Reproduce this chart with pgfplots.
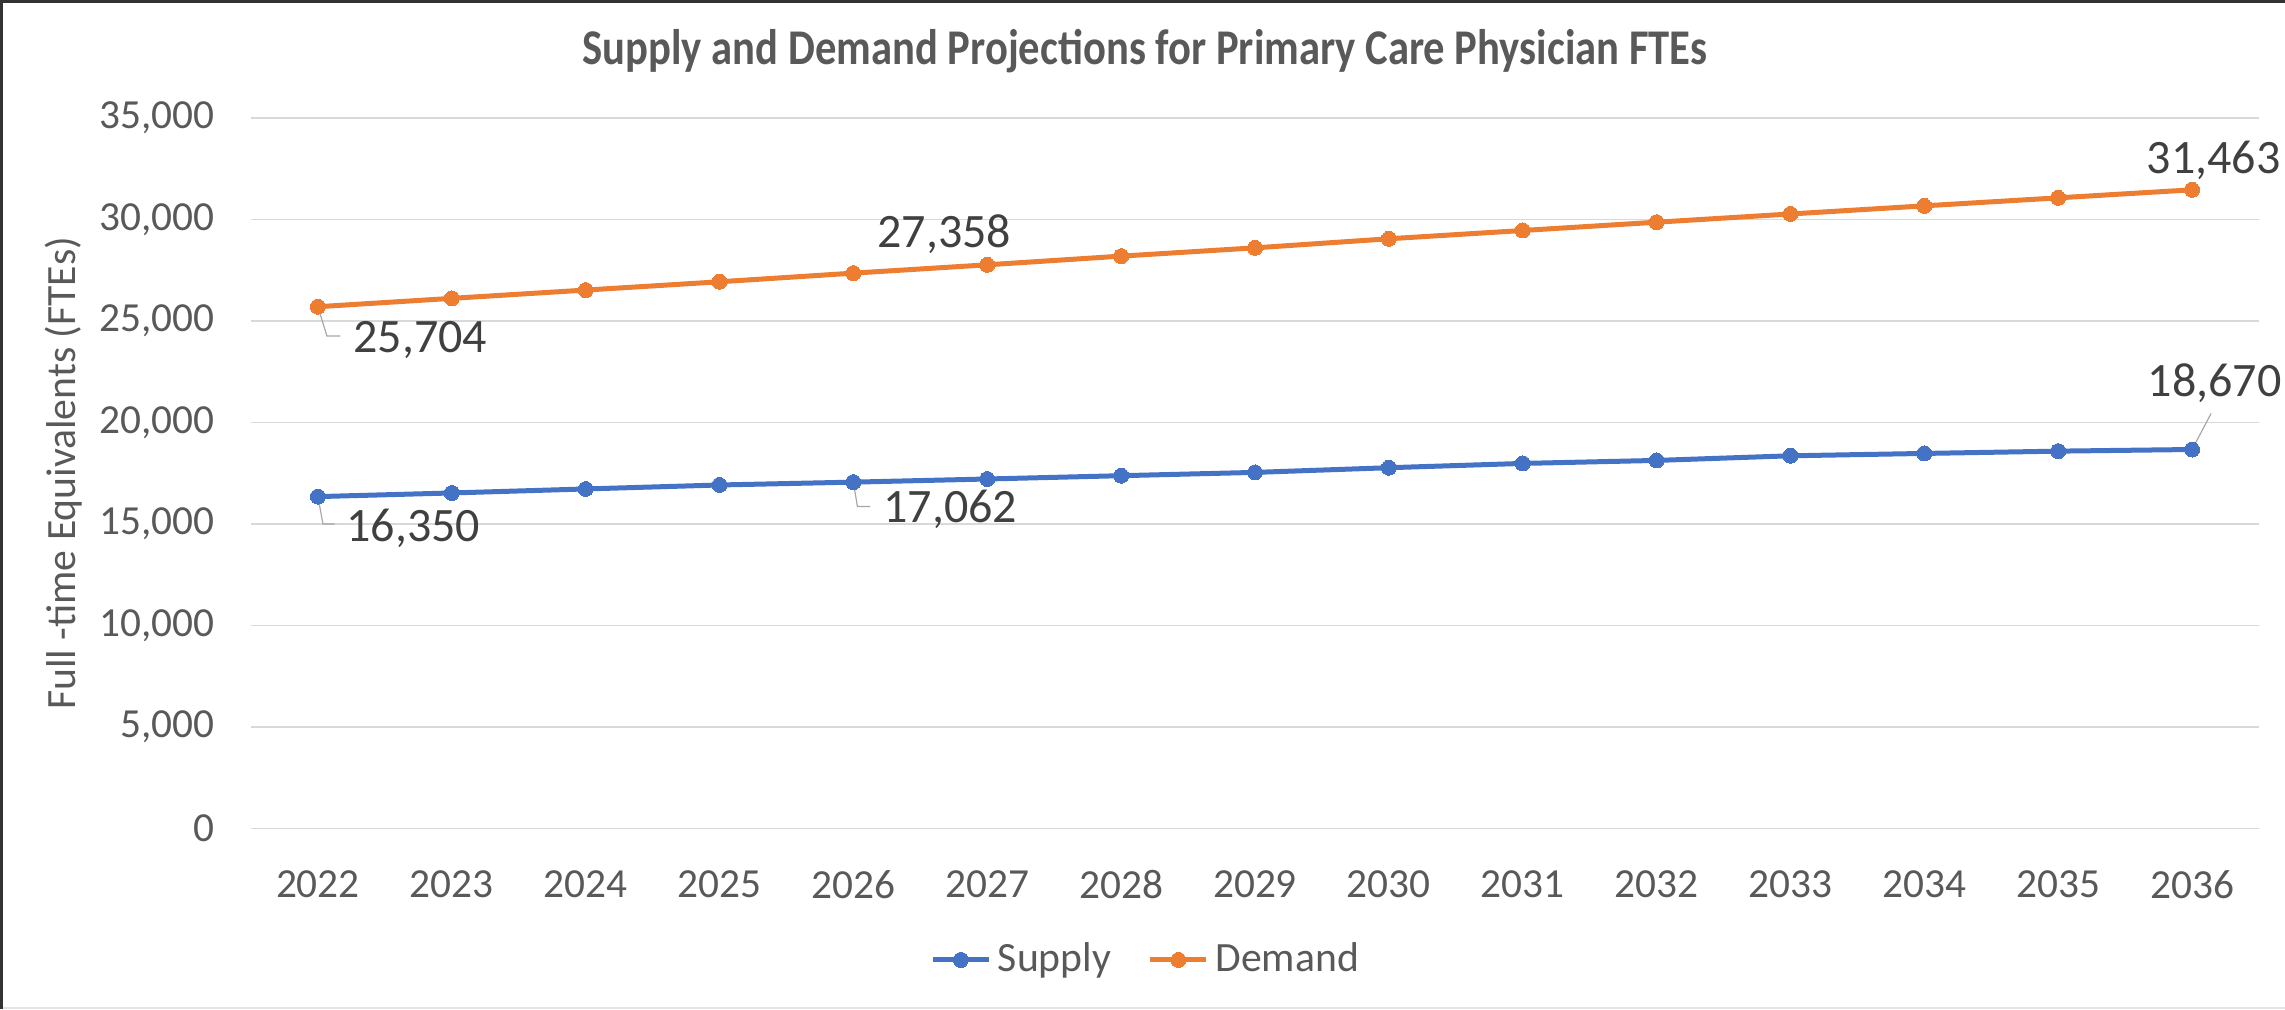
\documentclass[border=0pt]{standalone}
\usepackage{pgfplots}
\pgfplotsset{compat=1.18}
\usepackage{fontspec}
\setmainfont{Carlito}
\newfontfamily\titlefont[FakeStretch=0.853]{Carlito}
\definecolor{supc}{HTML}{4472C4}
\definecolor{demc}{HTML}{ED7D31}
\definecolor{txt}{HTML}{595959}
\definecolor{lbl}{HTML}{404040}
\definecolor{gridc}{HTML}{D9D9D9}
\definecolor{leader}{HTML}{A6A6A6}
\begin{document}
\begin{tikzpicture}[x=1pt,y=1pt]
\path[use as bounding box] (0,0) rectangle (685.5,302.7);
\draw[gridc!70, line width=0.6pt] (0,0.3) -- (685.5,0.3);
\draw[black!80, line width=0.9pt] (0.45,0) -- (0.45,302.7);
\draw[black!80, line width=0.9pt] (0,302.25) -- (685.5,302.25);
\node[font=\titlefont\bfseries\fontsize{15}{18}\selectfont, text=txt] at (343.5,287.4) {Supply and Demand Projections for Primary Care Physician FTEs};
\begin{axis}[
  at={(75.3pt,54.15pt)}, anchor=south west,
  width=602.4pt, height=213.15pt, scale only axis,
  xmin=-0.5, xmax=14.5, ymin=0, ymax=35000,
  xtick={0,1,2,3,4,5,6,7,8,9,10,11,12,13,14},
  xticklabels={2022,2023,2024,2025,2026,2027,2028,2029,2030,2031,2032,2033,2034,2035,2036},
  ytick={0,5000,10000,15000,20000,25000,30000,35000},
  scaled y ticks=false,
  ymajorgrids, grid style={gridc, line width=0.45pt},
  axis line style={draw=none}, major tick length=0pt,
  tick label style={font=\fontsize{12.4}{14}\selectfont, text=txt},
  yticklabel style={/pgf/number format/fixed, /pgf/number format/1000 sep={,}, /pgf/number format/assume math mode=true, xshift=-7.5pt},
  xticklabel style={yshift=-9pt},
  ylabel={Full -time Equivalents (FTEs)},
  every axis y label/.style={at={(axis description cs:-0.0935,0.5)}, rotate=90, anchor=center, font=\fontsize{12.5}{15}\selectfont, text=txt},
  clip=false,
  legend columns=2,
  legend style={at={(axis description cs:0.4467,-0.185)}, anchor=center, draw=none, fill=none, font=\fontsize{12.5}{15}\selectfont, text=txt, inner sep=0pt, /tikz/every even column/.append style={column sep=9pt}},
  legend image code/.code={\draw[#1, mark repeat=2, mark phase=2] plot coordinates {(0pt,0pt) (8.4pt,0pt) (16.8pt,0pt)};},
]
\addplot[supc, line width=1.5pt, mark=*, mark size=2.25pt, mark options={fill=supc, draw=supc, line width=0pt}] coordinates {
(0,16350) (1,16529) (2,16726) (3,16922) (4,17062) (5,17217) (6,17380) (7,17542)
(8,17773) (9,17984) (10,18132) (11,18360) (12,18476) (13,18589) (14,18670)};
\addlegendentry{Supply}
\addplot[demc, line width=1.5pt, mark=*, mark size=2.25pt, mark options={fill=demc, draw=demc, line width=0pt}] coordinates {
(0,25704) (1,26116) (2,26524) (3,26932) (4,27358) (5,27768) (6,28196) (7,28604)
(8,29051) (9,29459) (10,29867) (11,30272) (12,30673) (13,31067) (14,31463)};
\addlegendentry{Demand}
% leader lines
\draw[leader, line width=0.35pt] (axis cs:0,25704) -- ++(2.7pt,-8.8pt) -- ++(4pt,0pt);
\draw[leader, line width=0.35pt] (axis cs:0,16350) -- ++(1.5pt,-8.2pt) -- ++(3.5pt,0pt);
\draw[leader, line width=0.35pt] (axis cs:4,17062) -- ++(1.2pt,-7.3pt) -- ++(3.9pt,0pt);
\draw[leader, line width=0.35pt] (axis cs:14,18670) -- ++(5.7pt,10.8pt);
% data labels
\begin{scope}[every node/.style={font=\fontsize{14.4}{16}\selectfont, text=lbl, inner sep=0pt, anchor=base west}]
\node[xshift=10.5pt, yshift=-13.8pt] at (axis cs:0,25704) {25,704};
\node[xshift=8.4pt, yshift=-13.5pt] at (axis cs:0,16350) {16,350};
\node[xshift=8.8pt, yshift=-12.1pt] at (axis cs:4,17062) {17,062};
\node[xshift=7pt, yshift=7.7pt] at (axis cs:4,27358) {27,358};
\node[xshift=-13.8pt, yshift=4.9pt] at (axis cs:14,31463) {31,463};
\node[xshift=-13.5pt, yshift=15.9pt] at (axis cs:14,18670) {18,670};
\end{scope}
\end{axis}
\end{tikzpicture}
\end{document}
